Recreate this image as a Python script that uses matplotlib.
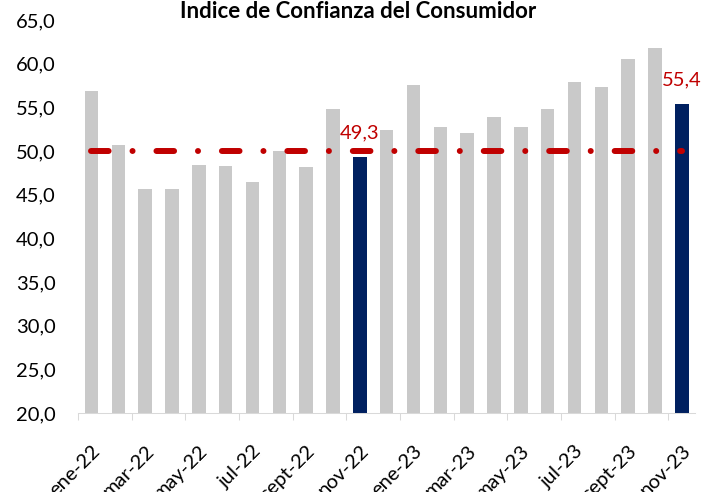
import matplotlib
matplotlib.use('Agg')
import matplotlib.pyplot as plt
import numpy as np

# Índice de Confianza del Consumidor, ene-22 .. nov-23
months = ['ene-22', 'feb-22', 'mar-22', 'abr-22', 'may-22', 'jun-22',
          'jul-22', 'ago-22', 'sept-22', 'oct-22', 'nov-22', 'dic-22',
          'ene-23', 'feb-23', 'mar-23', 'abr-23', 'may-23', 'jun-23',
          'jul-23', 'ago-23', 'sept-23', 'oct-23', 'nov-23']
values = [56.9, 50.7, 45.7, 45.7, 48.4, 48.3, 46.5, 50.0, 48.2, 54.8, 49.3,
          52.4, 57.5, 52.8, 52.1, 53.9, 52.7, 54.8, 57.9, 57.3, 60.5, 61.8,
          55.4]
highlight = ['nov-22', 'nov-23']
neutral = 50.0

GRAY = '#C9C9C9'
NAVY = '#002060'
RED = '#C00000'

plt.rcParams['font.family'] = ['Lato', 'DejaVu Sans']

fig = plt.figure(figsize=(7.16, 4.92), dpi=100)
ax = fig.add_axes([0.109, 0.1606, 0.862, 0.7988])

x = np.arange(len(months))
colors = [NAVY if m in highlight else GRAY for m in months]
ax.bar(x, values, width=0.5, color=colors, zorder=2)

ax.plot(x, [neutral] * len(x), color=RED, lw=4.3, solid_capstyle='round',
        dash_capstyle='round', linestyle=(0, (2.95, 4.0, 0.01, 4.0)),
        zorder=3)

for m in highlight:
    i = months.index(m)
    ax.annotate(f'{values[i]:.1f}'.replace('.', ','), (i, values[i]),
                xytext=(0, 17.5), textcoords='offset points',
                ha='center', va='center', color=RED, fontsize=14.5)

ax.set_xlim(-0.5, len(months) - 0.5)
ax.set_ylim(20, 65)
ax.set_yticks(np.arange(20, 66, 5))
ax.set_yticklabels([f'{v:.1f}'.replace('.', ',') for v in np.arange(20, 66, 5)])

ax.set_xticks(x[::2])
ax.set_xticklabels(months[::2], rotation=45, ha='right', va='top',
                   rotation_mode='anchor')
ax.set_xticks(np.arange(-0.5, len(months) - 1, 2), minor=True)
ax.tick_params(axis='x', which='major', length=0, pad=21, labelsize=14.5)
ax.tick_params(axis='x', which='minor', length=5, width=0.75,
               color='#D9D9D9', direction='out')
ax.tick_params(axis='y', length=0, pad=16, labelsize=14.5)

for side in ['left', 'top', 'right']:
    ax.spines[side].set_visible(False)
ax.spines['bottom'].set_color('#D9D9D9')
ax.spines['bottom'].set_linewidth(0.75)

fig.text(0.5, 0.9644, 'Indice de Confianza del Consumidor', ha='center',
         va='baseline', fontsize=16, fontweight='bold')

fig.savefig('out.png', dpi=100)
